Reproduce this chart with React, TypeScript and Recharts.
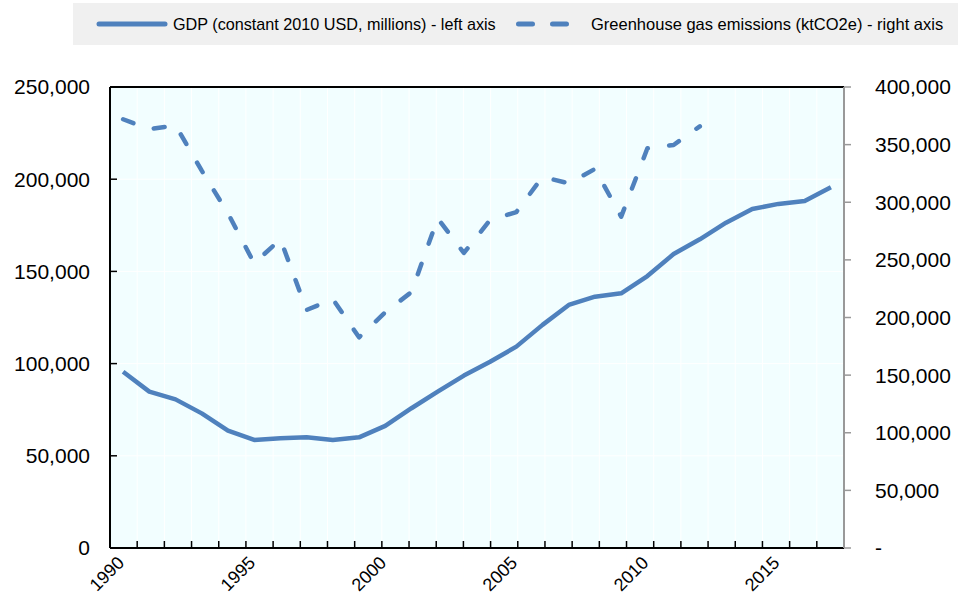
import React from "react";
import { LineChart, Line, XAxis, YAxis, CartesianGrid, ReferenceLine } from "recharts";

const years = [
  1990, 1991, 1992, 1993, 1994, 1995, 1996, 1997, 1998, 1999,
  2000, 2001, 2002, 2003, 2004, 2005, 2006, 2007, 2008, 2009,
  2010, 2011, 2012, 2013, 2014, 2015, 2016, 2017,
];

// GDP, constant 2010 USD, millions (left axis)
const gdp = [
  95600, 84800, 80600, 73000, 63600, 58600, 59500, 60000, 58600, 60000,
  66200, 75800, 84800, 93500, 101000, 109200, 121000, 131800, 136300, 138100,
  147500, 159400, 167400, 176400, 183800, 186600, 188200, 195600,
];

// Greenhouse gas emissions, ktCO2e (right axis)
const ghg = [
  372000, 363400, 366700, 327400, 290400, 247000, 267900, 206500, 216000, 182800,
  204500, 222100, 286000, 256000, 284600, 291500, 322000, 316400, 328900, 287500,
  346800, 349700, 365900, null, null, null, null, null,
];

const gdpName = "GDP (constant 2010 USD, millions) - left axis";
const ghgName = "Greenhouse gas emissions (ktCO2e) - right axis";

const leftTicks = [0, 50000, 100000, 150000, 200000, 250000];
const rightTicks = [0, 50000, 100000, 150000, 200000, 250000, 300000, 350000, 400000];
const yearLabels = ["1990", "1995", "2000", "2005", "2010", "2015"];

const data = years.map((y, i) => ({ year: String(y), gdp: gdp[i], ghg: ghg[i] }));
// year boundaries, used for the small x ticks and the vertical grid
const bounds = years.slice(1).map((_, i) => i + 1);

const FONT = '"Liberation Sans", Arial, sans-serif';
const BLUE = "#4F81BD";

const fmt = (v: number) => v.toLocaleString("en-US");

const YearTick = (props: any) => {
  const { x, y, payload } = props;
  return (
    <text
      x={x}
      y={y}
      dx={3}
      transform={`rotate(-45 ${x} ${y})`}
      textAnchor="end"
      fontSize={18}
      fontFamily={FONT}
      fill="#000"
    >
      {payload.value}
    </text>
  );
};

const NoLabel = () => <g />;

const Legend = () => (
  <div
    style={{
      position: "absolute",
      left: 73,
      top: 3,
      width: 885,
      height: 42,
      background: "#F0F0F0",
    }}
  >
    <svg width={885} height={42}>
      <line x1={26} y1={21} x2={92} y2={21} stroke={BLUE} strokeWidth={5} strokeLinecap="round" />
      <text x={100} y={27} fontSize={16.2} fontFamily={FONT} fill="#000">
        {gdpName}
      </text>
      <line
        x1={445.5}
        y1={21}
        x2={493.5}
        y2={21}
        stroke={BLUE}
        strokeWidth={5}
        strokeLinecap="round"
        strokeDasharray="14 20"
      />
      <text x={518} y={27} fontSize={16.5} fontFamily={FONT} fill="#000">
        {ghgName}
      </text>
    </svg>
  </div>
);

export default function App() {
  return (
    <div style={{ position: "absolute", left: 0, top: 0, width: 958, height: 594, background: "#fff" }}>
      <LineChart width={958} height={594} data={data} margin={{ top: 87, right: 0, bottom: 0, left: 0 }}>
        <XAxis
          xAxisId="bounds"
          type="number"
          domain={[0, years.length]}
          ticks={bounds}
          interval={0}
          allowDataOverflow
          height={1}
          tick={<NoLabel />}
          tickSize={-7}
          tickLine={{ stroke: "#000", strokeWidth: 1.5 }}
          axisLine={{ stroke: "#000", strokeWidth: 2 }}
        />
        <XAxis
          xAxisId="yr"
          dataKey="year"
          type="category"
          scale="band"
          ticks={yearLabels}
          interval={0}
          height={45}
          axisLine={false}
          tickLine={false}
          tickSize={0}
          tickMargin={17}
          tick={<YearTick />}
        />
        <YAxis
          yAxisId="left"
          orientation="left"
          width={110}
          domain={[0, 250000]}
          ticks={leftTicks}
          interval={0}
          tickFormatter={fmt}
          tickSize={-7}
          tickMargin={27}
          axisLine={{ stroke: "#000", strokeWidth: 2 }}
          tickLine={{ stroke: "#000", strokeWidth: 1.5 }}
          tick={{ fill: "#000", fontSize: 21, fontFamily: FONT }}
        />
        <YAxis
          yAxisId="right"
          orientation="right"
          width={114}
          domain={[0, 400000]}
          ticks={rightTicks}
          interval={0}
          tickFormatter={(v: number) => (v === 0 ? "-" : fmt(v))}
          tickSize={7}
          tickMargin={24}
          axisLine={{ stroke: "#999", strokeWidth: 2 }}
          tickLine={{ stroke: "#999", strokeWidth: 1.5 }}
          tick={{ fill: "#000", fontSize: 21, fontFamily: FONT }}
        />
        <CartesianGrid xAxisId="bounds" yAxisId="left" stroke="#fff" strokeWidth={1} fill="#F2FEFF" />
        <ReferenceLine yAxisId="left" xAxisId="bounds" y={250000} stroke="#000" strokeWidth={2} />
        <Line
          xAxisId="yr"
          yAxisId="left"
          type="linear"
          dataKey="gdp"
          name={gdpName}
          stroke={BLUE}
          strokeWidth={4.5}
          strokeLinejoin="round"
          dot={false}
          activeDot={false}
          isAnimationActive={false}
        />
        <Line
          xAxisId="yr"
          yAxisId="right"
          type="linear"
          dataKey="ghg"
          name={ghgName}
          stroke={BLUE}
          strokeWidth={4.5}
          strokeLinecap="round"
          strokeLinejoin="round"
          strokeDasharray="11 21.5"
          dot={false}
          activeDot={false}
          isAnimationActive={false}
        />
      </LineChart>
      <Legend />
    </div>
  );
}
